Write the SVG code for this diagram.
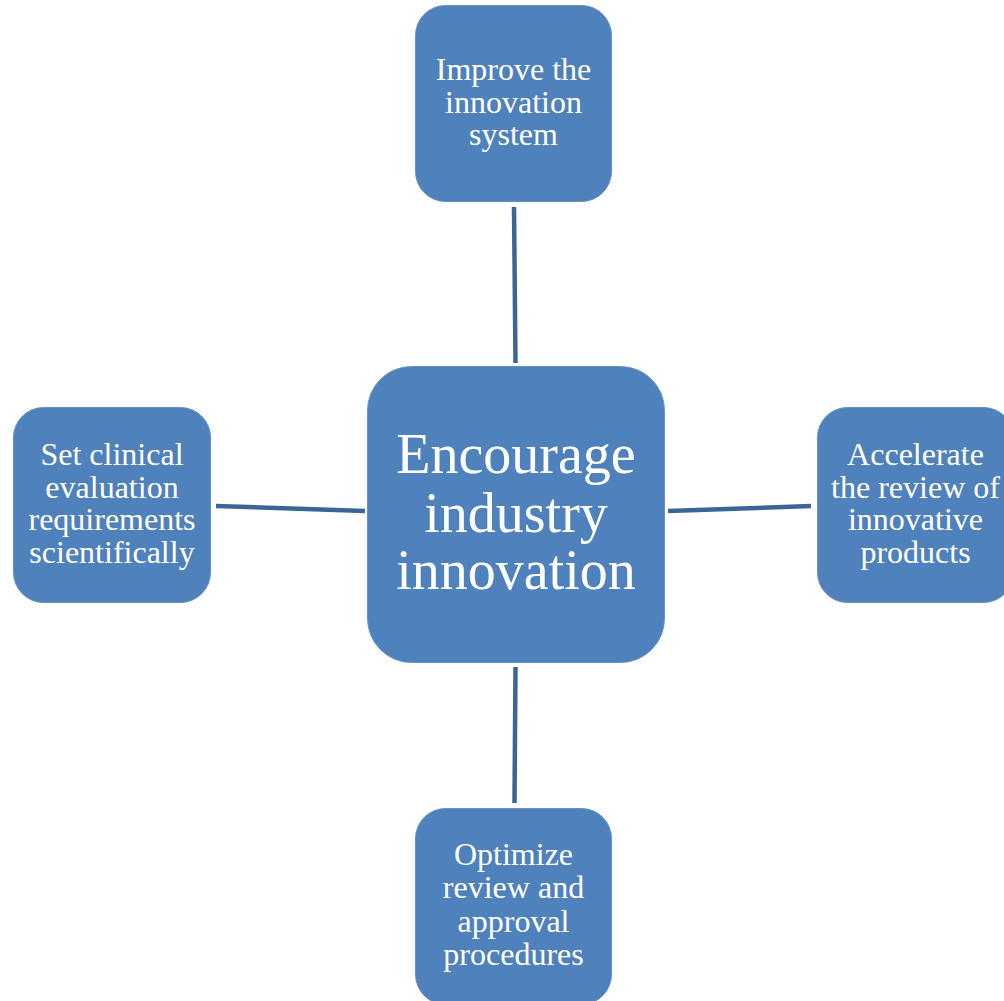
<svg xmlns="http://www.w3.org/2000/svg" width="1004" height="1001" viewBox="0 0 1004 1001">
<style>
.box{fill:#4F81BD;stroke:#6690C6;stroke-width:1}
.t{font-family:"Liberation Serif","Times New Roman",serif;fill:#FFFFFF;text-anchor:middle;font-size:32px}
.big{font-size:56px}
.c{stroke:#3B6596;stroke-width:4.5;fill:none}
</style>
<rect width="1004" height="1001" fill="#FFFFFF"/>
<g id="connectors">
<line class="c" x1="514" y1="207" x2="515.5" y2="363"/>
<line class="c" x1="216" y1="506" x2="365" y2="511"/>
<line class="c" x1="668" y1="511" x2="811" y2="506"/>
<line class="c" x1="515.5" y1="667" x2="514.5" y2="803"/>
</g>
<g id="center">
<rect class="box" x="367.5" y="366.5" width="297" height="296" rx="44"/>
<text class="t big" x="516" y="472.5">Encourage</text>
<text class="t big" x="516" y="531.5">industry</text>
<text class="t big" x="516" y="589">innovation</text>
</g>
<g id="top">
<rect class="box" x="415.5" y="5.5" width="196" height="196" rx="30"/>
<text class="t" x="513.5" y="80">Improve the</text>
<text class="t" x="513.5" y="112.5">innovation</text>
<text class="t" x="513.5" y="145">system</text>
</g>
<g id="left">
<rect class="box" x="13.5" y="407.5" width="197" height="195" rx="30"/>
<text class="t" x="112" y="465">Set clinical</text>
<text class="t" x="112" y="497.5">evaluation</text>
<text class="t" x="112" y="530">requirements</text>
<text class="t" x="112" y="563">scientifically</text>
</g>
<g id="right">
<rect class="box" x="817.5" y="407.5" width="196" height="195" rx="30"/>
<text class="t" x="915.5" y="465">Accelerate</text>
<text class="t" x="915.5" y="497.5">the review of</text>
<text class="t" x="915.5" y="530">innovative</text>
<text class="t" x="915.5" y="563">products</text>
</g>
<g id="bottom">
<rect class="box" x="415.5" y="808.5" width="196" height="196" rx="30"/>
<text class="t" x="513.5" y="865">Optimize</text>
<text class="t" x="513.5" y="898">review and</text>
<text class="t" x="513.5" y="932">approval</text>
<text class="t" x="513.5" y="965">procedures</text>
</g>
</svg>
